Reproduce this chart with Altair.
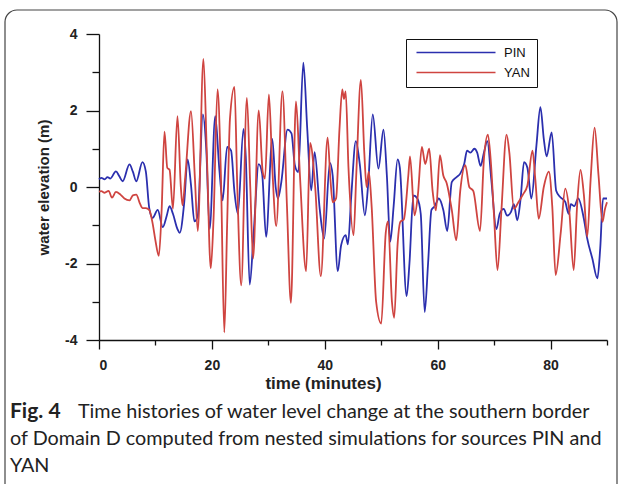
import altair as alt
import pandas as pd

# ---- data (time in minutes, water elevation in m) ----
pin_t = [0.0, 0.4, 1.0, 1.5, 2.0, 3.0, 3.6, 4.2, 5.4, 6.0, 6.6, 7.7, 8.3, 8.9, 9.5, 10.4, 11.3, 12.0, 12.5, 13.1,
         13.9, 14.3, 15.1, 15.7, 16.3, 16.9, 17.5, 18.4, 19.0, 19.6, 20.6, 21.3, 21.9, 22.7, 23.4, 24.0, 24.6, 25.6,
         26.0, 26.7, 27.4, 28.3, 28.9, 29.6, 30.7, 31.3, 31.7, 32.3, 33.4, 34.1, 34.7, 35.3, 36.2, 36.9, 37.6, 38.2,
         39.1, 39.9, 40.9, 41.4, 42.3, 42.9, 43.7, 44.1, 44.7, 45.5, 46.2, 47.1, 47.7, 48.5, 49.5, 50.4, 51.0, 51.6,
         52.2, 52.9, 53.3, 54.5, 55.0, 55.7, 56.4, 57.0, 57.7, 58.3, 58.9, 59.5, 60.2, 61.0, 61.7, 62.5, 63.3, 64.0,
         64.7, 65.2, 65.8, 66.5, 67.0, 67.6, 68.2, 68.8, 69.5, 70.4, 71.0, 71.7, 72.3, 73.0, 73.5, 74.1, 74.7, 75.3,
         75.9, 76.6, 77.5, 78.2, 78.8, 79.3, 80.2, 81.0, 81.7, 82.6, 83.2, 83.6, 84.2, 84.9, 85.9, 86.5, 87.4, 88.3,
         88.8, 89.3, 90.0]
pin_v = [0.2, 0.24, 0.2, 0.26, 0.22, 0.41, 0.28, 0.15, 0.59, 0.4, 0.15, 0.65, 0.4, -0.55, -0.81, -0.6, -1.05, -0.75,
         -0.5, -0.7, -1.1, -1.2, -0.4, 0.72, 0.05, -0.9, -0.75, 1.9, 1.0, -1.1, 1.85, 0.5, -0.35, 1.05, 0.95, -0.13,
         -0.7, 1.52, 0.8, -2.55, -1.2, 0.6, 0.35, -1.3, 1.26, 0.0, -0.3, 0.13, 1.5, 1.4, 0.57, 0.39, 3.25, 1.5,
         -0.09, 0.91, -0.57, -1.35, 0.63, 0.3, -2.2, -1.52, -1.26, -1.5, -0.22, 1.2, 0.6, -0.74, 0.1, 1.9, 0.48,
         1.5, 0.3, -1.43, -0.5, 0.72, 0.5, -2.85, -2.0, -0.22, -0.3, -0.7, -3.27, -2.0, -0.6, -0.5, -0.3, -0.6,
         -1.15, 0.13, 0.25, 0.35, 0.6, 0.95, 0.9, 1.0, 0.9, 0.55, 0.9, 1.2, 0.2, -1.1, -0.7, -0.57, -0.75, -0.65,
         -0.45, -0.87, -0.3, 0.65, 0.5, -0.3, 1.09, 2.09, 1.26, 0.8, 1.43, -0.1, -0.26, -0.39, -0.7, -0.45, -0.5,
         -0.3, -0.83, -1.35, -1.87, -2.39, -1.6, -0.3, -0.3]

yan_t = [0.0, 0.4, 1.0, 1.7, 2.3, 3.0, 3.8, 4.5, 5.4, 6.0, 6.6, 7.3, 7.7, 8.3, 8.9, 9.5, 10.0, 10.6, 11.1, 11.6,
         12.1, 12.5, 13.1, 13.9, 14.5, 14.8, 15.3, 16.3, 17.0, 17.5, 18.5, 19.1, 19.8, 20.3, 21.0, 21.6, 22.2, 22.7,
         23.2, 24.0, 24.5, 25.2, 26.2, 26.8, 27.3, 28.3, 29.0, 29.4, 30.1, 30.7, 31.4, 32.5, 33.3, 34.0, 34.9, 35.6,
         36.7, 37.4, 38.3, 39.3, 40.5, 41.0, 41.4, 42.0, 42.6, 43.1, 43.4, 43.7, 44.2, 45.1, 45.6, 46.4, 47.0, 47.4,
         47.8, 48.3, 49.1, 50.0, 50.8, 51.2, 51.9, 52.3, 52.9, 53.4, 54.0, 54.8, 55.1, 55.9, 56.5, 57.2, 57.8, 58.5,
         59.1, 59.7, 60.4, 61.0, 61.6, 62.5, 63.3, 64.0, 64.9, 65.6, 66.3, 67.5, 68.2, 68.9, 69.4, 70.0, 70.6, 71.3,
         72.2, 72.7, 73.5, 74.3, 75.1, 75.9, 76.8, 77.3, 77.9, 78.8, 79.7, 80.3, 80.9, 81.8, 82.6, 83.3, 84.1, 84.7,
         85.3, 85.9, 86.5, 87.1, 87.8, 88.5, 89.2, 89.6, 90.0]
yan_v = [-0.12, -0.11, -0.15, -0.1, -0.28, -0.13, -0.2, -0.3, -0.35, -0.22, -0.2, -0.45, -0.55, -0.55, -0.6, -0.95,
         -1.4, -1.8, -0.6, 1.45, 0.5, 0.45, -0.57, 1.85, 0.0, -0.48, 0.3, 1.98, 0.2, -1.15, 3.35, 0.9, -2.13, -0.8,
         2.55, 0.3, -3.8, -1.0, 1.78, 2.62, 0.0, -2.57, 2.33, 0.0, -1.87, 2.0, 0.4, 0.22, 2.42, 0.5, -1.02, 2.5,
         -0.5, -3.03, 2.24, 0.3, -2.2, 1.15, 0.0, -2.33, 1.29, 0.2, -0.4, -0.3, 1.5, 2.55, 2.3, 2.5, 0.5, -1.26,
         0.4, 2.8, 0.9, 0.0, 0.4, -0.5, -3.0, -3.57, -1.2, -0.9, -3.0, -3.42, -1.5, -0.91, -0.85, 0.3, 0.8, -0.74,
         -0.2, 1.05, 0.6, 1.0, -0.1, -0.61, 0.83, 0.3, 0.1, -0.6, -1.39, -0.1, 0.57, 0.0, -0.1, -1.15, 0.74, 1.37,
         0.7, -0.8, -2.17, -0.6, 1.37, 0.9, -0.57, -0.4, -0.2, 0.04, 0.95, 0.2, -0.83, 0.0, 0.4, -0.5, -2.3, -1.2,
         -0.04, -0.6, -2.17, -0.5, 0.45, -0.2, -1.3, 0.2, 1.55, 0.3, -0.91, -0.6, -0.4]

series_names = ["PIN", "YAN"]
series_colors = ["#2b2fae", "#cf4440"]

x_ticks = [0, 10, 20, 30, 40, 50, 60, 70, 80, 90]
y_ticks = [-4, -3, -2, -1, 0, 1, 2, 3, 4]

caption_bold = "Fig. 4"
caption_lines = [
    "Time histories of water level change at the southern border",
    "of Domain D computed from nested simulations for sources PIN and",
    "YAN",
]

# ---- build table ----
df = pd.concat([
    pd.DataFrame({"time": pin_t, "elev": pin_v, "source": "PIN", "order": range(len(pin_t))}),
    pd.DataFrame({"time": yan_t, "elev": yan_v, "source": "YAN", "order": range(len(yan_t))}),
])

W, H = 508, 306
LEFT, TOP = 99, 34

lines = alt.Chart(df).mark_line(strokeWidth=1.8, interpolate="monotone").encode(
    x=alt.X("time:Q",
            scale=alt.Scale(domain=[0, 90], nice=False, zero=False),
            axis=alt.Axis(values=x_ticks,
                          labelExpr="datum.value % 20 == 0 && datum.value < 90 ? toString(datum.value) : ''",
                          title="time (minutes)",
                          tickSize={"condition": {"test": "datum.value % 20 != 0", "value": 5}, "value": 9},
                          labelPadding=9, titlePadding=3, titleX=224)),
    y=alt.Y("elev:Q",
            scale=alt.Scale(domain=[-4, 4], nice=False),
            axis=alt.Axis(values=y_ticks,
                          labelExpr="datum.value % 2 == 0 ? toString(datum.value) : ''",
                          title="water elevation (m)",
                          tickSize={"condition": {"test": "datum.value % 2 != 0", "value": 7}, "value": 13},
                          labelPadding=9, titlePadding=13)),
    color=alt.Color("source:N",
                    scale=alt.Scale(domain=series_names, range=series_colors),
                    legend=alt.Legend(title=None, orient="none", legendX=307, legendY=5,
                                      symbolType="M-0.6,0L15.2,0", symbolSize=100,
                                      symbolStrokeWidth=1.7, labelOffset=78,
                                      strokeColor="#111", fillColor="white", padding=7,
                                      rowPadding=6, labelFont="Liberation Sans", labelFontSize=13,
                                      labelColor="#111")),
    order="order:Q",
)

one = pd.DataFrame({"k": [0]})

border = alt.Chart(one).mark_rect(filled=False, stroke="#444", strokeWidth=1.2, cornerRadius=12).encode(
    x=alt.value(5 - LEFT), x2=alt.value(617 - LEFT), y=alt.value(10 - TOP), y2=alt.value(520 - TOP)
)

cap_font = "Lato"
cap_size = 19.8
cap_bold = alt.Chart(one).mark_text(align="left", baseline="middle", font=cap_font, fontSize=21,
                                    fontWeight="bold", color="#222").encode(
    x=alt.value(10 - LEFT), y=alt.value(412 - TOP), text=alt.value(caption_bold))
cap1 = alt.Chart(one).mark_text(align="left", baseline="middle", font=cap_font, fontSize=cap_size,
                                color="#222").encode(
    x=alt.value(78 - LEFT), y=alt.value(412 - TOP), text=alt.value(caption_lines[0]))
cap2 = alt.Chart(one).mark_text(align="left", baseline="middle", font=cap_font, fontSize=cap_size,
                                color="#222").encode(
    x=alt.value(10 - LEFT), y=alt.value(439 - TOP), text=alt.value(caption_lines[1]))
cap3 = alt.Chart(one).mark_text(align="left", baseline="middle", font=cap_font, fontSize=cap_size,
                                color="#222").encode(
    x=alt.value(10 - LEFT), y=alt.value(466 - TOP), text=alt.value(caption_lines[2]))

chart = alt.layer(border, lines, cap_bold, cap1, cap2, cap3).properties(
    width=W, height=H,
    autosize=alt.AutoSizeParams(type="none"),
    padding={"left": LEFT, "top": TOP, "right": 624 - LEFT - W, "bottom": 484 - TOP - H},
    background="white",
).configure_view(stroke=None).configure_axis(
    domainColor="#111", tickColor="#111", domainWidth=1.3, tickWidth=1.3,
    labelFont="Liberation Sans", labelFontWeight="bold", labelFontSize=14, labelColor="#222",
    titleFont="Liberation Sans", titleFontWeight="bold", titleColor="#222", grid=False,
).configure_axisX(titleFontSize=17).configure_axisY(titleFontSize=15)

chart.save("out.html", embed_options={"renderer": "svg", "actions": False})
